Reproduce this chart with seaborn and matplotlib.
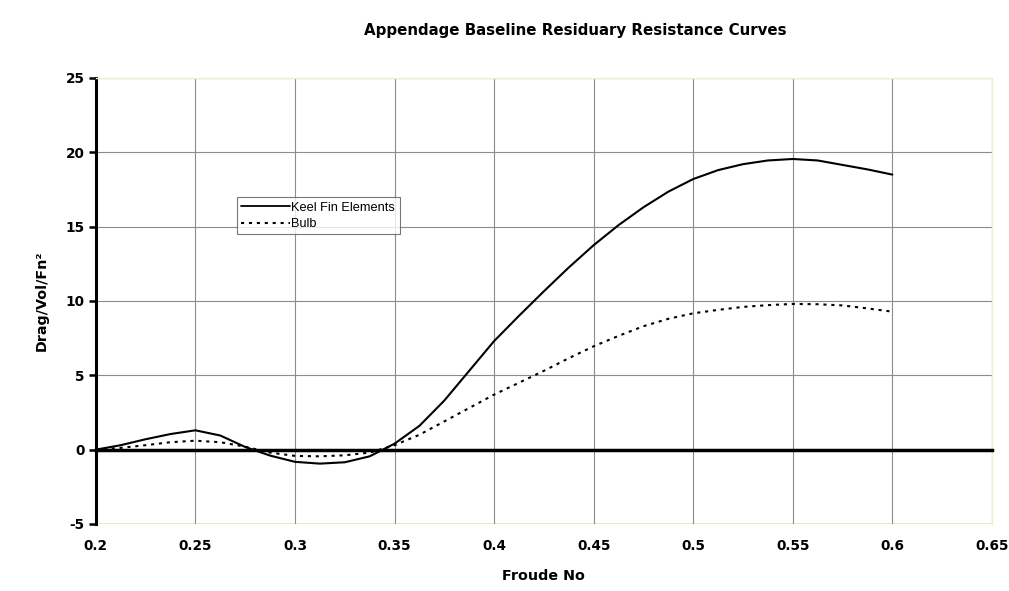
import matplotlib
matplotlib.use("Agg")
import matplotlib.pyplot as plt
from matplotlib.lines import Line2D
import numpy as np
import pandas as pd
import seaborn as sns

# ---------------- data ----------------
froude = [0.2, 0.2125, 0.225, 0.2375, 0.25, 0.2625, 0.275, 0.2875, 0.3, 0.3125,
          0.325, 0.3375, 0.35, 0.3625, 0.375, 0.3875, 0.4, 0.4125, 0.425, 0.4375,
          0.45, 0.4625, 0.475, 0.4875, 0.5, 0.5125, 0.525, 0.5375, 0.55, 0.5625,
          0.575, 0.5875, 0.6]
keel_fin = [0.0, 0.3, 0.7, 1.05, 1.3, 0.95, 0.18, -0.4, -0.82, -0.94,
            -0.85, -0.45, 0.4, 1.6, 3.3, 5.3, 7.3, 9.0, 10.65, 12.25,
            13.75, 15.1, 16.3, 17.35, 18.2, 18.8, 19.2, 19.45, 19.55, 19.45,
            19.15, 18.85, 18.5]
bulb = [0.0, 0.12, 0.3, 0.5, 0.6, 0.5, 0.2, -0.2, -0.42, -0.45,
        -0.38, -0.2, 0.3, 1.0, 1.9, 2.8, 3.7, 4.5, 5.3, 6.15,
        6.95, 7.65, 8.3, 8.8, 9.17, 9.4, 9.6, 9.72, 9.8, 9.78,
        9.7, 9.5, 9.28]
series_names = ["Keel Fin Elements", "Bulb"]
x_ticks = [0.2, 0.25, 0.3, 0.35, 0.4, 0.45, 0.5, 0.55, 0.6, 0.65]
x_tick_labels = ["0.2", "0.25", "0.3", "0.35", "0.4", "0.45", "0.5", "0.55", "0.6", "0.65"]
y_ticks = [-5, 0, 5, 10, 15, 20, 25]
title = "Appendage Baseline Residuary Resistance Curves"
x_label = "Froude No"
y_label = "Drag/Vol/Fn²"

# ---------------- style ----------------
sns.set_theme(style="white")
plt.rcParams["font.family"] = ["DejaVu Sans"]
plt.rcParams["axes.unicode_minus"] = False
plt.rcParams["text.color"] = "black"
plt.rcParams["axes.labelcolor"] = "black"
plt.rcParams["xtick.color"] = "black"
plt.rcParams["ytick.color"] = "black"

df = pd.DataFrame({
    "Froude": froude + froude,
    "value": keel_fin + bulb,
    "series": [series_names[0]] * len(froude) + [series_names[1]] * len(froude),
})

fig = plt.figure(figsize=(10.09, 5.91), dpi=100)
ax = fig.add_axes([0.095, 0.1134, 0.888, 0.7547])

dash_map = {series_names[0]: "", series_names[1]: (1.5, 2.3)}
sns.lineplot(data=df, x="Froude", y="value", hue="series", style="series",
             palette={n: "black" for n in series_names}, dashes=dash_map,
             linewidth=1.5, sort=False, legend=False, ax=ax)

ax.set_xlim(0.2, 0.65)
ax.set_ylim(-5, 25)
ax.set_xticks(x_ticks)
ax.set_xticklabels(x_tick_labels)
ax.set_yticks(y_ticks)

ax.grid(True, color="#8c8c8c", linewidth=0.8)
ax.set_axisbelow(True)

# spines
ax.spines["bottom"].set_position(("data", 0))
ax.spines["bottom"].set_linewidth(2.5)
ax.spines["bottom"].set_color("black")
ax.spines["bottom"].set_zorder(5)
ax.spines["left"].set_linewidth(2.2)
ax.spines["left"].set_color("black")
for s in ["top", "right"]:
    ax.spines[s].set_color("#f2eec8")
    ax.spines[s].set_linewidth(1.0)
ax.axhline(-5, color="#f2eec8", linewidth=1.5, zorder=0)

ax.tick_params(axis="x", direction="out", length=4, width=1.8, colors="black",
               pad=60, labelsize=9.8)
ax.tick_params(axis="y", direction="out", length=5, width=1.8, colors="black",
               pad=3, labelsize=9.8, left=True)
for lab in ax.get_xticklabels() + ax.get_yticklabels():
    lab.set_fontweight("bold")

ax.set_xlabel(x_label, fontsize=10.3, fontweight="bold", labelpad=12, color="black")
ax.set_ylabel(y_label, fontsize=10.3, fontweight="bold", labelpad=12, color="black")

fig.text(0.57, 1 - 30 / 591, title, ha="center", va="center",
         fontsize=10.8, fontweight="bold", color="black")

handles = [Line2D([], [], color="black", lw=1.3, linestyle="-"),
           Line2D([], [], color="black", lw=1.5, linestyle=(0, (1.5, 2.3)))]
leg = ax.legend(handles, series_names, loc="upper left",
                bbox_to_anchor=(0.157, 0.733), frameon=True, fancybox=False,
                edgecolor="#555555", handlelength=3.8,
                handletextpad=0.15, borderpad=0.35, labelspacing=0.35,
                borderaxespad=0,
                prop={"family": "Liberation Sans", "size": 9.2})
leg.get_frame().set_linewidth(0.8)
for t in leg.get_texts():
    t.set_color("black")

fig.savefig("out.png", dpi=100)
